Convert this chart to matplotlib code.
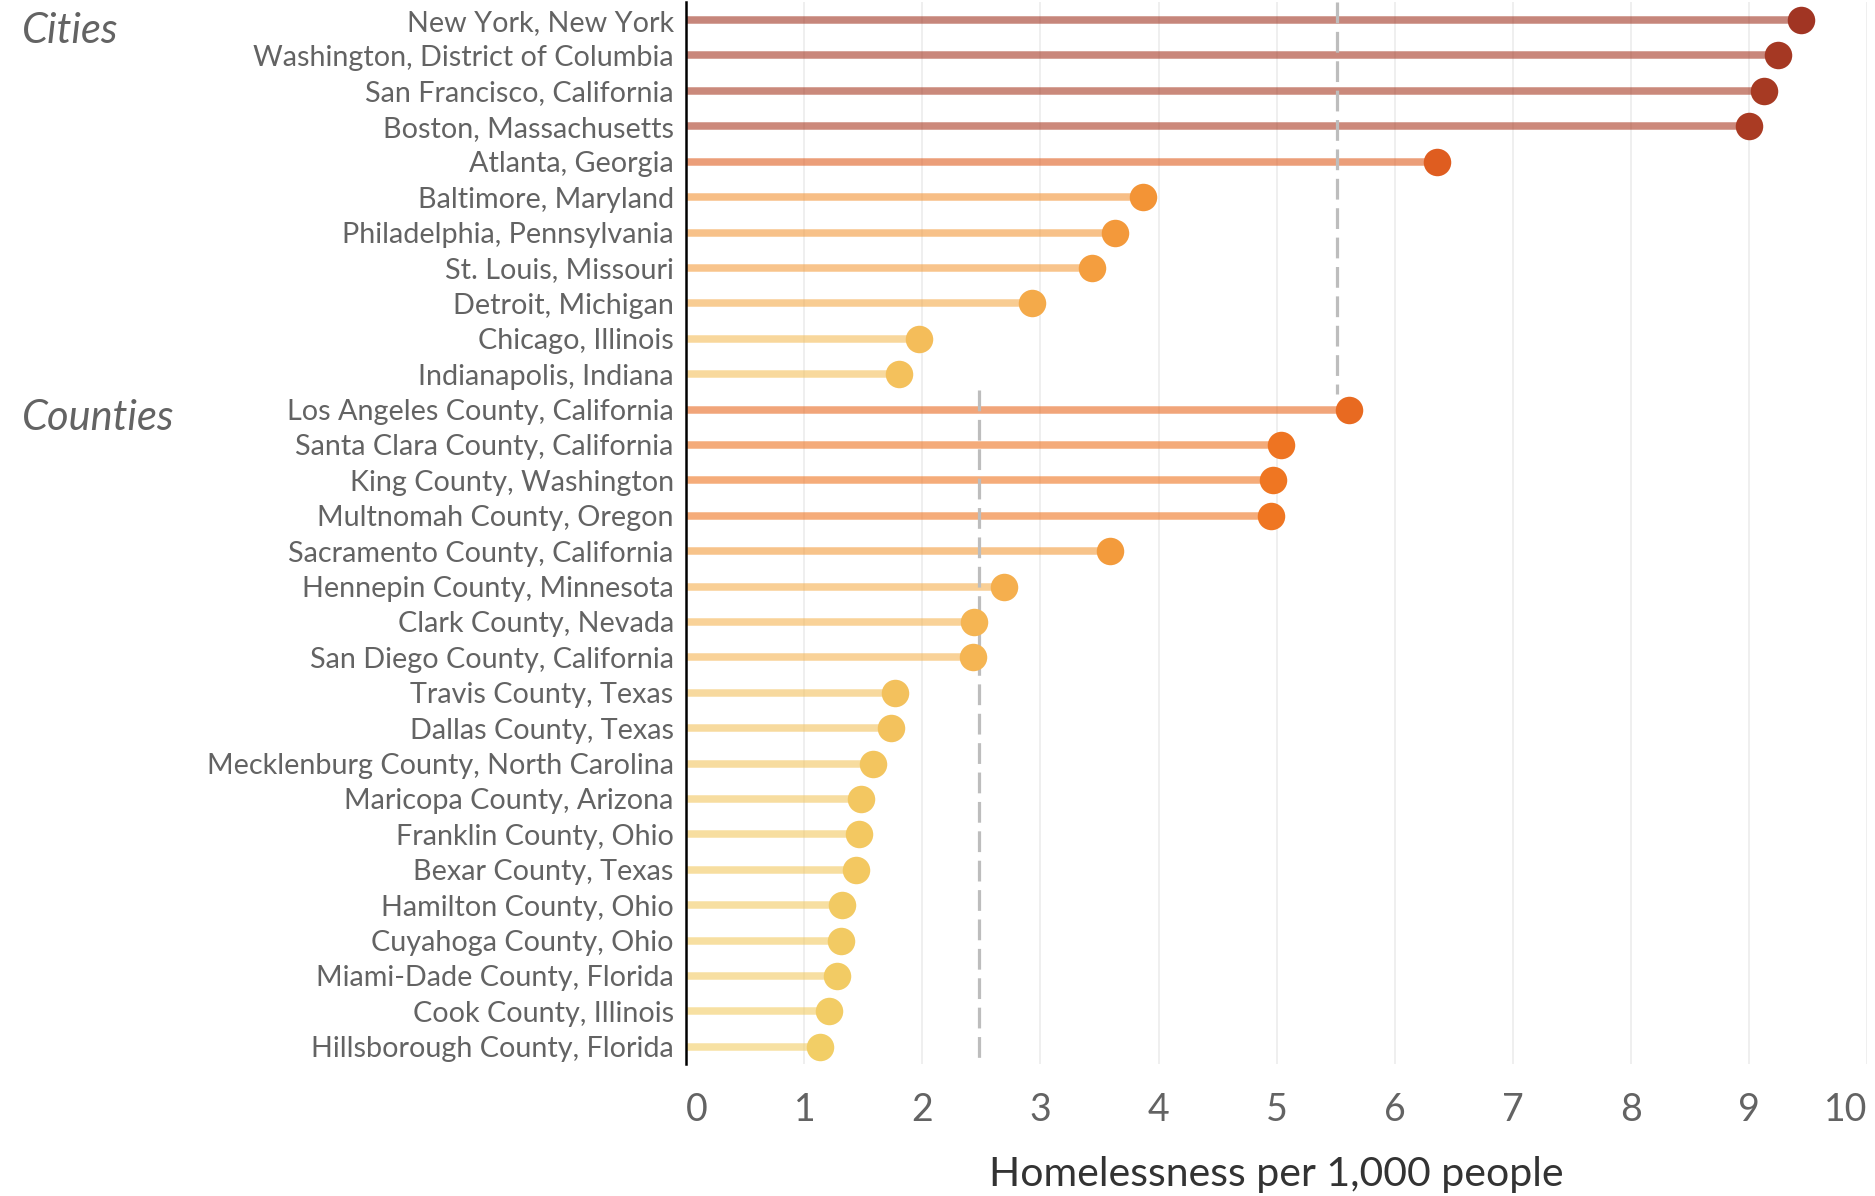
"""
Lollipop chart: homelessness per 1,000 people, large US cities and counties.
"""

import matplotlib.pyplot as plt
import matplotlib.transforms as mtransforms
import numpy as np
from matplotlib.colors import LinearSegmentedColormap, Normalize, to_rgba

# --- data -------------------------------------------------------------
CITIES = [
    "New York, New York", "Washington, District of Columbia",
    "San Francisco, California", "Boston, Massachusetts", "Atlanta, Georgia",
    "Baltimore, Maryland", "Philadelphia, Pennsylvania", "St. Louis, Missouri",
    "Detroit, Michigan", "Chicago, Illinois", "Indianapolis, Indiana",
]
CITY_VALUES = [9.44, 9.25, 9.13, 9.00, 6.36, 3.87, 3.63, 3.44, 2.93, 1.97, 1.80]

COUNTIES = [
    "Los Angeles County, California", "Santa Clara County, California",
    "King County, Washington", "Multnomah County, Oregon",
    "Sacramento County, California", "Hennepin County, Minnesota",
    "Clark County, Nevada", "San Diego County, California",
    "Travis County, Texas", "Dallas County, Texas",
    "Mecklenburg County, North Carolina", "Maricopa County, Arizona",
    "Franklin County, Ohio", "Bexar County, Texas", "Hamilton County, Ohio",
    "Cuyahoga County, Ohio", "Miami-Dade County, Florida",
    "Cook County, Illinois", "Hillsborough County, Florida",
]
COUNTY_VALUES = [5.61, 5.04, 4.97, 4.95, 3.59, 2.69, 2.44, 2.43, 1.77, 1.73,
                 1.58, 1.48, 1.46, 1.44, 1.32, 1.31, 1.28, 1.21, 1.13]

CITY_AVERAGE = 5.51
COUNTY_AVERAGE = 2.48
XTICKS = list(range(0, 11))

# --- style ------------------------------------------------------------
FONT = "Lato"
TEXT_GREY = "#636363"
CMAP = LinearSegmentedColormap.from_list("homeless", [
    (0.00, "#F2CE66"),
    (0.16, "#F5B453"),
    (0.33, "#F39436"),
    (0.46, "#EF7622"),
    (0.62, "#E05E20"),
    (1.00, "#A03523"),
])
NORM = Normalize(vmin=1.1, vmax=9.5)

labels = CITIES + COUNTIES
values = np.array(CITY_VALUES + COUNTY_VALUES)
rows = np.arange(len(labels))
n_cities = len(CITIES)

fig = plt.figure(figsize=(18.75, 11.96), dpi=100)
ax = fig.add_axes([0.366, 0.11, 0.6297, 0.888])

for y, v in zip(rows, values):
    c = CMAP(NORM(v))
    ax.hlines(y, 0, v, color=to_rgba(c, 0.6), lw=5.4, zorder=2)
    ax.plot(v, y, "o", ms=19.8, color=c, mec="none", zorder=4)

# group averages
ax.vlines(CITY_AVERAGE, -0.5, n_cities - 0.45, color="#BDBDBD", lw=2.3,
          linestyles=(0, (6.5, 2.7)), zorder=3)
ax.vlines(COUNTY_AVERAGE, n_cities - 0.55, len(labels) - 0.5, color="#BDBDBD",
          lw=2.3, linestyles=(0, (6.5, 2.7)), zorder=3)

ax.set_xlim(0, 10)
ax.set_ylim(len(labels) - 0.5, -0.5)
ax.set_yticks(rows)
ax.set_yticklabels(labels, fontsize=20.7, color=TEXT_GREY, family=FONT)
ax.set_xticks(XTICKS)
ax.set_xticklabels([str(t) for t in XTICKS], fontsize=27, color=TEXT_GREY,
                   family=FONT)
# keep the end labels inside the axis range
xt = ax.get_xticklabels()
xt[0].set_ha("left")
xt[-1].set_ha("right")
ax.tick_params(axis="both", length=0)
ax.tick_params(axis="y", pad=9)
ax.tick_params(axis="x", pad=20)
ax.xaxis.grid(True, color="#EEEEEE", lw=1.3, zorder=0)
ax.set_axisbelow(True)
for side in ["top", "right", "bottom"]:
    ax.spines[side].set_visible(False)
ax.spines["left"].set_linewidth(1.8)
ax.spines["left"].set_color("black")
ax.set_xlabel("Homelessness per 1,000 people", fontsize=29.5, color="#333333",
              family=FONT, labelpad=20)

trans = mtransforms.blended_transform_factory(fig.transFigure, ax.transData)
ax.text(0.0115, 0.3, "Cities", transform=trans, fontsize=30, style="italic",
        color=TEXT_GREY, family=FONT, va="center", ha="left")
ax.text(0.0115, n_cities + 0.25, "Counties", transform=trans, fontsize=30,
        style="italic", color=TEXT_GREY, family=FONT, va="center", ha="left")

fig.savefig("out.png", dpi=100)
